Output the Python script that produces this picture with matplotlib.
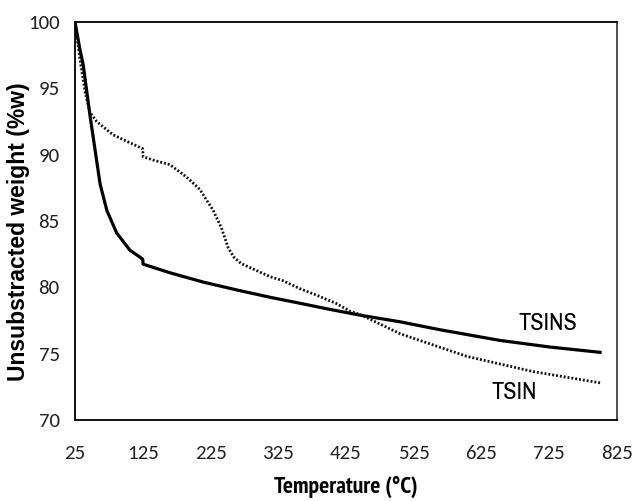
import numpy as np
import matplotlib
matplotlib.use("Agg")
import matplotlib.pyplot as plt
from matplotlib import font_manager

# TSINS (solid)
t_tsins = [25, 32, 37, 47, 54.5, 62, 72, 86.5, 106, 123, 125, 125.5,
           165, 214, 264, 313, 357, 400, 446, 505, 564, 652, 726, 800]
w_tsins = [100, 98.0, 96.8, 93.0, 90.4, 87.8, 85.8, 84.1, 82.8, 82.2, 82.1, 81.75,
           81.1, 80.4, 79.8, 79.25, 78.8, 78.35, 77.9, 77.4, 76.8, 76.0, 75.5, 75.1]

# TSIN (dotted)
t_tsin = [25, 32, 40, 47, 57, 81, 106, 123, 125, 125.5, 140, 165, 190, 209,
          229, 241, 251, 259, 270, 283, 313, 332, 357, 382, 410, 431, 446,
          505, 603, 701, 800]
w_tsin = [100, 97.3, 94.7, 93.2, 92.5, 91.5, 90.9, 90.5, 90.45, 89.85, 89.6, 89.25, 88.3, 87.4,
          85.8, 84.5, 83.0, 82.3, 81.8, 81.5, 80.8, 80.5, 79.9, 79.4, 78.8, 78.2, 77.95,
          76.5, 74.8, 73.65, 72.8]

xticks = [25, 125, 225, 325, 425, 525, 625, 725, 825]
yticks = [70, 75, 80, 85, 90, 95, 100]

# pick the first font that is actually installed (optionally with a bold face)
fonts = font_manager.fontManager.ttflist
def pick(names, bold=False):
    for n in names:
        faces = [f for f in fonts if f.name == n]
        if not faces:
            continue
        if bold and not any((f.weight if isinstance(f.weight, int) else 700 if 'bold' in str(f.weight) else 400) >= 600
                            for f in faces):
            continue
        return n
    return 'DejaVu Sans'

narrow_list = ['Liberation Sans Narrow', 'Arial Narrow', 'Archivo Narrow', 'PT Sans Narrow',
               'Roboto Condensed', 'Open Sans Condensed', 'Fira Sans Condensed',
               'IBM Plex Sans Condensed', 'Encode Sans Condensed', 'Barlow Semi Condensed',
               'Liberation Sans']
tick_fam = pick(['Carlito'] + narrow_list)
narrow_fam = pick(narrow_list)
narrow_bold = pick(narrow_list, bold=True)
wide_fam = pick(['Liberation Sans', 'Arimo', 'Arial'], bold=True)

fig = plt.figure(figsize=(6.34, 5.01), dpi=100)
ax = fig.add_axes([0.1183, 0.1617, 0.8549, 0.7943])

ax.plot(t_tsins, w_tsins, color='black', linewidth=2.3, solid_joinstyle='round')
ax.plot(t_tsin, w_tsin, color='#111111', linewidth=2.0, linestyle=(0, (0.7, 0.7)))

ax.set_xlim(25, 825)
ax.set_ylim(70, 100)
ax.set_xticks(xticks)
ax.set_yticks(yticks)

ax.set_xticklabels([str(v) for v in xticks], family=tick_fam, size=15, color='#222222')
ax.set_yticklabels([str(v) for v in yticks], family=tick_fam, size=15, color='#222222')
ax.tick_params(axis='x', length=0, pad=18)
ax.tick_params(axis='y', length=0, pad=11)

for s in ax.spines.values():
    s.set_linewidth(1.3)
    s.set_color('black')
ax.spines['right'].set_color('#404040')

fig.text(346 / 634, 1 - 487 / 501, 'Temperature (°C)', family=narrow_bold, weight='bold',
         fontsize=17, ha='center', va='center')
fig.text(19 / 634, 1 - 232 / 501, 'Unsubstracted weight (%w)', family=wide_fam, weight='bold',
         fontsize=16.5, rotation=90, ha='center', va='center')

ax.text(723, 77.25, 'TSINS', family=narrow_fam, fontsize=17.5, ha='center', va='center')
ax.text(674, 72.1, 'TSIN', family=narrow_fam, fontsize=17.5, ha='center', va='center')

fig.savefig('out.png', dpi=100)
